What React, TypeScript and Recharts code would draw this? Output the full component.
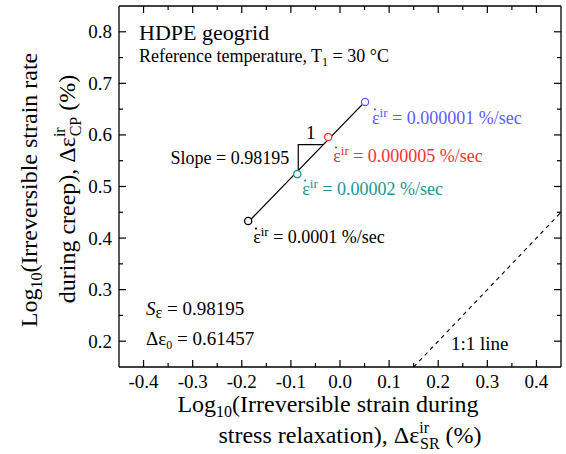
import { LabelList, ReferenceDot, Scatter, ScatterChart, XAxis, YAxis } from 'recharts'

// creep vs. relaxation irreversible strain (log10 %), one point per strain rate
const rateLabels = ['0.0001', '0.00002', '0.000005', '0.000001']
const srStrain = [-0.187, -0.087, -0.024, 0.051]
const cpStrain = [0.433, 0.524, 0.596, 0.664]

const slope = 0.98195
const intercept = 0.61457

const xTicks = [-0.4, -0.35, -0.3, -0.25, -0.2, -0.15, -0.1, -0.05, 0, 0.05, 0.1, 0.15, 0.2, 0.25, 0.3, 0.35, 0.4]
const yTicks = [0.2, 0.25, 0.3, 0.35, 0.4, 0.45, 0.5, 0.55, 0.6, 0.65, 0.7, 0.75, 0.8]

// ends of the 1:1 reference line
const oneToOne = [0.15, 0.45]

const RATE_COLORS = ['#000000', '#1b9696', '#ee3434', '#5c5cff']
const FONT = '"Liberation Serif", "Times New Roman", serif'

const W = 566
const H = 454
const MARGIN = { top: 5, right: 4, bottom: 47, left: 59 }
const X_AXIS_H = 40
const Y_AXIS_W = 60
// plot box size, used to mirror the ticks onto the top and right edges
const PLOT_W = W - MARGIN.left - MARGIN.right - Y_AXIS_W - 1
const PLOT_H = H - MARGIN.top - MARGIN.bottom - X_AXIS_H - 1

const points = srStrain.map((x, i) => ({ x, y: cpStrain[i], rate: rateLabels[i], idx: i }))

const fitLine = [srStrain[0], srStrain[srStrain.length - 1]].map((x) => ({ x, y: slope * x + intercept }))

const unitLine = oneToOne.map((v) => ({ x: v, y: v }))

// little slope triangle sitting on the fitted line
const triX0 = -0.085
const triRun = 0.051
const triBase = slope * triX0 + intercept
const triangle = [
  { x: triX0, y: triBase },
  { x: triX0, y: triBase + slope * triRun },
  { x: triX0 + triRun, y: triBase + slope * triRun },
]

const isMajor = (v: number) => Math.abs(v * 10 - Math.round(v * 10)) < 1e-6

function BottomTick({ x, y, payload }: any) {
  const len = isMajor(payload.value) ? 7 : 4
  const top = y - PLOT_H
  return (
    <g>
      <line x1={x} x2={x} y1={y} y2={y - len} stroke="#000" strokeWidth={1.2} />
      <line x1={x} x2={x} y1={top} y2={top + len} stroke="#000" strokeWidth={1.2} />
      {isMajor(payload.value) && (
        <text x={x} y={y + 21} textAnchor="middle" fontSize={19} fontFamily={FONT} fill="#000">
          {payload.value.toFixed(1)}
        </text>
      )}
    </g>
  )
}

function LeftTick({ x, y, payload }: any) {
  const len = isMajor(payload.value) ? 7 : 4
  const right = x + PLOT_W
  return (
    <g>
      <line x1={x} x2={x + len} y1={y} y2={y} stroke="#000" strokeWidth={1.2} />
      <line x1={right} x2={right - len} y1={y} y2={y} stroke="#000" strokeWidth={1.2} />
      {isMajor(payload.value) && (
        <text x={x - 7} y={y + 6.5} textAnchor="end" fontSize={19} fontFamily={FONT} fill="#000">
          {payload.value.toFixed(1)}
        </text>
      )}
    </g>
  )
}

function OpenCircle({ cx, cy, payload }: any) {
  return <circle cx={cx} cy={cy} r={3.6} fill="#fff" stroke={RATE_COLORS[payload.idx]} strokeWidth={1.3} />
}

const labelOffsets = [
  { dx: 5, dy: 22 },
  { dx: 5, dy: 21 },
  { dx: 5, dy: 25 },
  { dx: 7, dy: 22 },
]

function RateLabel({ x, y, width, height, value, index }: any) {
  const cx = x + width / 2
  const cy = y + height / 2
  const off = labelOffsets[index]
  const tx = cx + off.dx
  const ty = cy + off.dy
  const color = RATE_COLORS[index]
  return (
    <g>
      <circle cx={tx + 2.8} cy={ty - 14.5} r={1.1} fill={color} />
      <text x={tx} y={ty} fontSize={18} fontFamily={FONT} fill={color}>
        ε
        <tspan fontSize={13} dy={-7}>
          ir
        </tspan>
        <tspan dy={7}>{` = ${value} %/sec`}</tspan>
      </text>
    </g>
  )
}

function RiseLabel({ viewBox }: any) {
  return (
    <text x={viewBox.x} y={viewBox.y - 6} textAnchor="middle" fontSize={19} fontFamily={FONT}>
      1
    </text>
  )
}

function SlopeLabel({ viewBox }: any) {
  return (
    <text x={viewBox.x - 9} y={viewBox.y + 6} textAnchor="end" fontSize={18} fontFamily={FONT}>
      {`Slope = ${slope.toFixed(5)}`}
    </text>
  )
}

const hidden = () => <g />

export default function App() {
  const axisLine = { stroke: '#000', strokeWidth: 1.3 }
  return (
    <div style={{ position: 'absolute', left: 0, top: 0, width: W, height: H, background: '#fff' }}>
      <ScatterChart width={W} height={H} margin={MARGIN}>
        <XAxis
          xAxisId="b"
          type="number"
          dataKey="x"
          domain={[-0.45, 0.45]}
          ticks={xTicks}
          interval={0}
          tickSize={0}
          tickMargin={0}
          tickLine={false}
          tick={BottomTick}
          axisLine={axisLine}
          height={X_AXIS_H}
          allowDataOverflow
        />
        <XAxis
          xAxisId="t"
          orientation="top"
          type="number"
          dataKey="x"
          domain={[-0.45, 0.45]}
          tick={false}
          tickLine={false}
          axisLine={axisLine}
          height={1}
          allowDataOverflow
        />
        <YAxis
          yAxisId="l"
          type="number"
          dataKey="y"
          domain={[0.15, 0.85]}
          ticks={yTicks}
          interval={0}
          tickSize={0}
          tickMargin={0}
          tickLine={false}
          tick={LeftTick}
          axisLine={axisLine}
          width={Y_AXIS_W}
          allowDataOverflow
        />
        <YAxis
          yAxisId="r"
          orientation="right"
          type="number"
          dataKey="y"
          domain={[0.15, 0.85]}
          tick={false}
          tickLine={false}
          axisLine={axisLine}
          width={1}
          allowDataOverflow
        />
        <Scatter
          xAxisId="b"
          yAxisId="l"
          data={unitLine}
          line={{ stroke: '#000', strokeWidth: 1.1, strokeDasharray: '4 4' }}
          lineType="joint"
          shape={hidden}
          isAnimationActive={false}
        />
        <Scatter
          xAxisId="b"
          yAxisId="l"
          data={fitLine}
          line={{ stroke: '#000', strokeWidth: 1.3 }}
          lineType="joint"
          shape={hidden}
          isAnimationActive={false}
        />
        <Scatter
          xAxisId="b"
          yAxisId="l"
          data={triangle}
          line={{ stroke: '#000', strokeWidth: 1.2 }}
          lineType="joint"
          shape={hidden}
          isAnimationActive={false}
        />
        <Scatter xAxisId="b" yAxisId="l" data={points} shape={OpenCircle} isAnimationActive={false}>
          <LabelList dataKey="rate" content={RateLabel} />
        </Scatter>
        <ReferenceDot
          xAxisId="b"
          yAxisId="l"
          x={triX0 + triRun / 2}
          y={triBase + slope * triRun}
          r={0}
          stroke="none"
          label={RiseLabel}
        />
        <ReferenceDot
          xAxisId="b"
          yAxisId="l"
          x={triX0}
          y={triBase + (slope * triRun) / 2}
          r={0}
          stroke="none"
          label={SlopeLabel}
        />
      </ScatterChart>
      <svg
        width={W}
        height={H}
        style={{ position: 'absolute', left: 0, top: 0, pointerEvents: 'none' }}
        fontFamily={FONT}
        fill="#000"
      >
        <text x={139} y={40} fontSize={22}>
          HDPE geogrid
        </text>
        <text x={139} y={62} fontSize={18}>
          Reference temperature, T
          <tspan fontSize={12} dy={4}>
            1
          </tspan>
          <tspan dy={-4}> = 30 °C</tspan>
        </text>
        <text x={146} y={315} fontSize={19}>
          <tspan fontStyle="italic">S</tspan>
          <tspan fontSize={16} dy={3}>
            ε
          </tspan>
          <tspan dy={-3}> = 0.98195</tspan>
        </text>
        <text x={146} y={345} fontSize={19}>
          Δε
          <tspan fontSize={12} dy={4}>
            0
          </tspan>
          <tspan dy={-4}> = 0.61457</tspan>
        </text>
        <text x={451} y={350} fontSize={19}>
          1:1 line
        </text>
        {/* x-axis title */}
        <text x={328} y={412} fontSize={24} textAnchor="middle">
          Log
          <tspan fontSize={16} dy={5}>
            10
          </tspan>
          <tspan dy={-5}>(Irreversible strain during</tspan>
        </text>
        <text x={350} y={443} fontSize={24} textAnchor="middle">
          stress relaxation), Δε
          <tspan fontSize={16} dy={-10}>
            ir
          </tspan>
          <tspan fontSize={16} dx={-9} dy={16}>
            SR
          </tspan>
          <tspan dy={-6}> (%)</tspan>
        </text>
        {/* y-axis title, rotated */}
        <text x={37} y={190} fontSize={24} textAnchor="middle" transform="rotate(-90 37 190)">
          Log
          <tspan fontSize={16} dy={5}>
            10
          </tspan>
          <tspan dy={-5}>(Irreversible strain rate</tspan>
        </text>
        <text x={75} y={189} fontSize={24} textAnchor="middle" transform="rotate(-90 75 189)">
          during creep), Δε
          <tspan fontSize={16} dy={-10}>
            ir
          </tspan>
          <tspan fontSize={16} dx={-9} dy={16}>
            CP
          </tspan>
          <tspan dy={-6}> (%)</tspan>
        </text>
      </svg>
    </div>
  )
}
